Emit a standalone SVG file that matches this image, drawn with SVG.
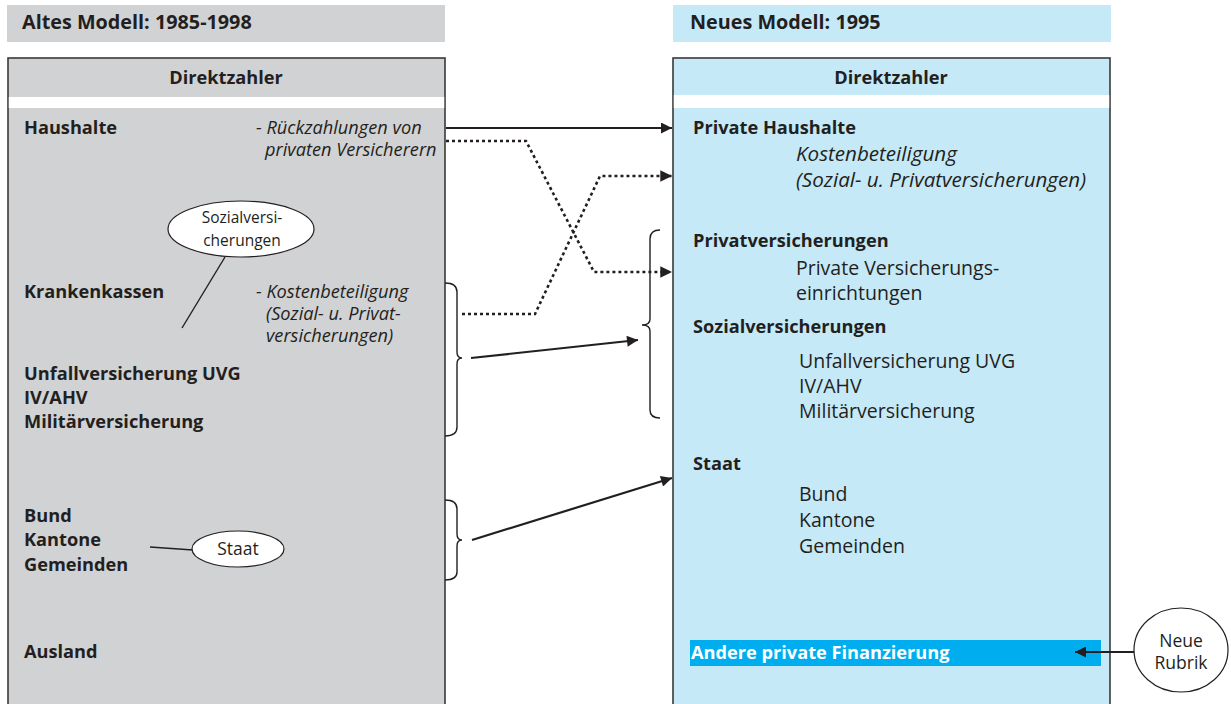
<svg xmlns="http://www.w3.org/2000/svg" width="1231" height="704" viewBox="0 0 1231 704">
  <style>
    text { font-family: "Open Sans", "Liberation Sans", sans-serif; fill: #231f20; font-size: 18.2px; }
    .b { font-weight: bold; }
    .t { font-weight: bold; font-size: 19.8px; }
    .i { font-style: italic; }
    .ri { font-style: italic; font-size: 20.6px; }
    .r { font-size: 19.5px; }
    .m { text-anchor: middle; }
    .s { font-size: 15.5px; }
    .s2 { font-size: 17.5px; }
    .frame { stroke: #3a3a3a; stroke-width: 1.6; }
    .ln { fill: none; stroke: #231f20; stroke-width: 2.2; }
    .dot { fill: none; stroke: #231f20; stroke-width: 2.6; stroke-dasharray: 3 3; }
    .brace { fill: none; stroke: #231f20; stroke-width: 1.4; }
    .bubble { fill: #ffffff; stroke: #231f20; stroke-width: 1.2; }
  </style>
  <defs>
    <marker id="ah" viewBox="0 0 10 10" refX="10" refY="5" markerWidth="6" markerHeight="5" markerUnits="strokeWidth" orient="auto">
      <path d="M0,0 L10,5 L0,10 Z" fill="#231f20"/>
    </marker>
    <marker id="ahd" viewBox="0 0 10 10" refX="10" refY="5" markerWidth="5.5" markerHeight="4.5" markerUnits="strokeWidth" orient="auto">
      <path d="M0,0 L10,5 L0,10 Z" fill="#231f20"/>
    </marker>
  </defs>
  <rect width="1231" height="704" fill="#ffffff"/>

  <!-- old model -->
  <g id="old-title">
    <rect x="7" y="5" width="438" height="37" fill="#d1d2d4"/>
    <text class="t" x="22" y="29">Altes Modell: 1985-1998</text>
  </g>
  <g id="old-box">
    <rect x="8" y="58" width="437" height="660" fill="#d1d2d4" class="frame"/>
    <rect x="8.8" y="97" width="435.4" height="11" fill="#ffffff"/>
    <text class="b m" x="226" y="84">Direktzahler</text>
  </g>
  <g id="old-haushalte">
    <text class="b" x="24" y="134">Haushalte</text>
    <text class="i" x="256" y="134">- Rückzahlungen von</text>
    <text class="i" x="265" y="156">privaten Versicherern</text>
  </g>
  <g id="old-krankenkassen">
    <text class="b" x="24" y="298">Krankenkassen</text>
    <text class="i" x="256" y="298">- Kostenbeteiligung</text>
    <text class="i" x="266" y="320">(Sozial- u. Privat-</text>
    <text class="i" x="266" y="342">versicherungen)</text>
  </g>
  <g id="old-sozial">
    <text class="b" x="24" y="380">Unfallversicherung UVG</text>
    <text class="b" x="24" y="404">IV/AHV</text>
    <text class="b" x="24" y="428">Militärversicherung</text>
  </g>
  <g id="old-staat">
    <text class="b" x="24" y="522">Bund</text>
    <text class="b" x="24" y="546">Kantone</text>
    <text class="b" x="24" y="571">Gemeinden</text>
  </g>
  <g id="old-ausland">
    <text class="b" x="24" y="658">Ausland</text>
  </g>
  <g id="note-sozial">
    <line x1="225" y1="257" x2="182" y2="328" stroke="#231f20" stroke-width="1.4"/>
    <ellipse class="bubble" cx="241" cy="229" rx="73" ry="28"/>
    <text class="m s" x="242" y="223">Sozialversi-</text>
    <text class="m s" x="242" y="246">cherungen</text>
  </g>
  <g id="note-staat">
    <line x1="150" y1="547" x2="193" y2="550" stroke="#231f20" stroke-width="1.4"/>
    <ellipse class="bubble" cx="238" cy="549" rx="46" ry="18"/>
    <text class="m s2" x="238" y="555">Staat</text>
  </g>

  <!-- new model -->
  <g id="new-title">
    <rect x="673" y="5" width="438" height="37" fill="#c6e9f8"/>
    <text class="t" x="690" y="29">Neues Modell: 1995</text>
  </g>
  <g id="new-box">
    <rect x="673" y="58" width="437" height="660" fill="#c6e9f8" class="frame"/>
    <rect x="673.8" y="95" width="435.4" height="13" fill="#ffffff"/>
    <text class="b m" x="891" y="84">Direktzahler</text>
  </g>
  <g id="new-haushalte">
    <text class="b" x="693" y="134">Private Haushalte</text>
    <text class="ri" x="796" y="161">Kostenbeteiligung</text>
    <text class="ri" x="796" y="187">(Sozial- u. Privatversicherungen)</text>
  </g>
  <g id="new-privat">
    <text class="b" x="693" y="247">Privatversicherungen</text>
    <text class="r" x="796" y="275">Private Versicherungs-</text>
    <text class="r" x="796" y="300">einrichtungen</text>
  </g>
  <g id="new-sozial">
    <text class="b" x="693" y="333">Sozialversicherungen</text>
    <text class="r" x="799" y="368">Unfallversicherung UVG</text>
    <text class="r" x="799" y="393">IV/AHV</text>
    <text class="r" x="799" y="418">Militärversicherung</text>
  </g>
  <g id="new-staat">
    <text class="b" x="693" y="470">Staat</text>
    <text class="r" x="799" y="501">Bund</text>
    <text class="r" x="799" y="527">Kantone</text>
    <text class="r" x="799" y="553">Gemeinden</text>
  </g>
  <g id="new-andere">
    <rect x="690" y="640" width="411" height="26" fill="#00aeef"/>
    <text class="b" x="691" y="659" style="fill:#ffffff">Andere private Finanzierung</text>
  </g>
  <g id="note-neu">
    <ellipse class="bubble" cx="1181" cy="650" rx="47" ry="42"/>
    <text class="m s2" x="1181" y="647">Neue</text>
    <text class="m s2" x="1181" y="669">Rubrik</text>
  </g>

  <!-- braces and connectors -->
  <g id="connectors">
    <path class="brace" d="M445,283 Q457,283 457,292 L457,352 Q457,358 462,358 Q457,358 457,364 L457,427 Q457,436 445,436"/>
    <path class="brace" d="M445,500 Q457,500 457,509 L457,534 Q457,540 462,540 Q457,540 457,546 L457,572 Q457,580 445,580"/>
    <path class="brace" d="M660,230 Q650,230 650,239 L650,319 Q650,325 642,325 Q650,325 650,331 L650,410 Q650,418 660,418"/>

    <line class="ln" x1="446" y1="128" x2="672" y2="128" marker-end="url(#ah)"/>
    <polyline class="dot" points="446,141 526,141 594,272 672,272" marker-end="url(#ahd)"/>
    <polyline class="dot" points="462,314 535,314 600,176 672,176" marker-end="url(#ahd)"/>
    <line class="ln" x1="471" y1="358" x2="638" y2="340" marker-end="url(#ah)"/>
    <line class="ln" x1="472" y1="540" x2="672" y2="478" marker-end="url(#ah)"/>
    <line class="ln" x1="1134" y1="652" x2="1075" y2="652" marker-end="url(#ah)"/>
  </g>
</svg>
